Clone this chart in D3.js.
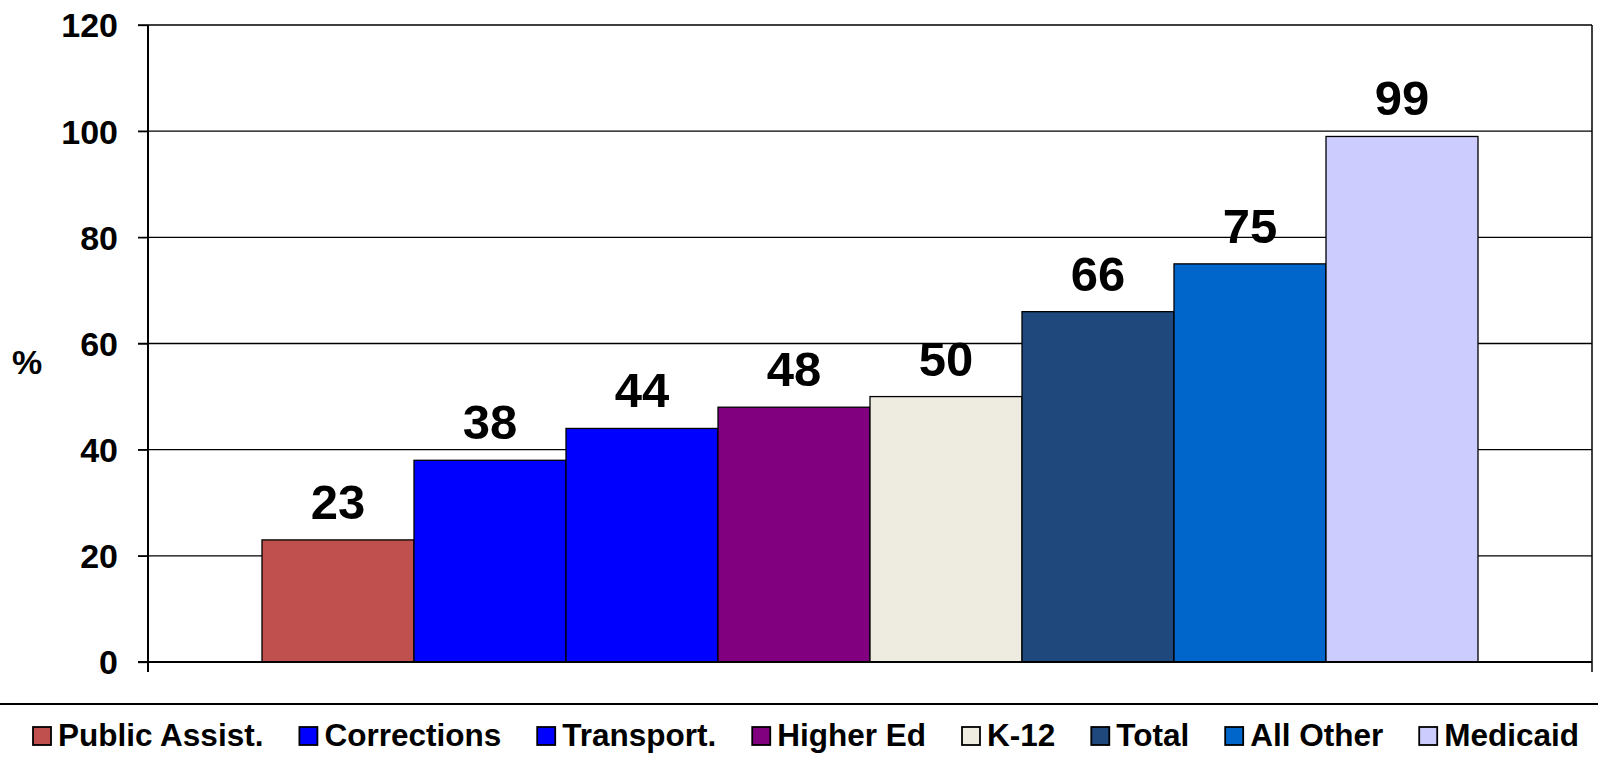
<!DOCTYPE html>
<html>
<head>
<meta charset="utf-8">
<script src="https://cdn.jsdelivr.net/npm/d3@7"></script>
<style>
  html, body { margin: 0; padding: 0; background: #fff; }
  svg { display: block; }
  text { font-family: "Liberation Sans", Arial, sans-serif; font-weight: bold; fill: #000; }
</style>
</head>
<body>
<svg id="chart" width="1598" height="760"></svg>
<script>
// ---- data ----
const seriesNames = ["Public Assist.", "Corrections", "Transport.", "Higher Ed", "K-12", "Total", "All Other", "Medicaid"];
const seriesValues = [23, 38, 44, 48, 50, 66, 75, 99];
const seriesColors = ["#C0504D", "#0000FF", "#0000FF", "#800080", "#EEECE1", "#1F497D", "#0066CC", "#CCCCFF"];
const yTicks = [0, 20, 40, 60, 80, 100, 120];
const yLabel = "%";

// ---- layout ----
const W = 1598, H = 760;
const plot = { left: 148, right: 1592, top: 25, bottom: 662 };

const svg = d3.select("#chart");

const y = d3.scaleLinear().domain([0, 120]).range([plot.bottom, plot.top]);
const x = d3.scaleBand().domain(seriesNames).range([plot.left, plot.right])
  .paddingInner(0).paddingOuter(0.75);

// gridlines
svg.append("g").selectAll("line").data(yTicks.filter(t => t > 0)).join("line")
  .attr("x1", plot.left - 10).attr("x2", plot.right)
  .attr("y1", d => y(d)).attr("y2", d => y(d))
  .attr("stroke", "#000").attr("stroke-width", 1.3);

// y axis with ticks and labels
const yAxis = d3.axisLeft(y).tickValues(yTicks).tickSize(10).tickPadding(20).tickFormat(d3.format("d"));
const gy = svg.append("g").attr("transform", `translate(${plot.left},0)`).call(yAxis);
gy.select(".domain").remove();
gy.selectAll(".tick line").attr("stroke", "#000").attr("stroke-width", 1.3);
gy.selectAll(".tick text")
  .attr("font-size", 34).attr("font-family", "'Liberation Sans', Arial, sans-serif")
  .attr("font-weight", "bold").attr("fill", "#000").attr("dy", "0.35em");

// y axis label
svg.append("text").attr("x", 27).attr("y", 374).attr("text-anchor", "middle")
  .attr("font-size", 34).text(yLabel);

// bars
const data = seriesNames.map((n, i) => ({ name: n, value: seriesValues[i], color: seriesColors[i] }));
svg.append("g").selectAll("rect").data(data).join("rect")
  .attr("x", d => x(d.name)).attr("width", x.bandwidth())
  .attr("y", d => y(d.value)).attr("height", d => y(0) - y(d.value))
  .attr("fill", d => d.color).attr("stroke", "#000").attr("stroke-width", 1.3);

// data labels
svg.append("g").selectAll("text").data(data).join("text")
  .attr("x", d => x(d.name) + x.bandwidth() / 2).attr("y", d => y(d.value) - 21)
  .attr("text-anchor", "middle").attr("font-size", 49).text(d => d.value);

// axis lines
svg.append("line").attr("x1", plot.left).attr("x2", plot.left)
  .attr("y1", plot.top).attr("y2", plot.bottom + 10).attr("stroke", "#000").attr("stroke-width", 2);
svg.append("line").attr("x1", plot.right).attr("x2", plot.right)
  .attr("y1", plot.top).attr("y2", plot.bottom + 10).attr("stroke", "#000").attr("stroke-width", 1.5);
svg.append("line").attr("x1", plot.left - 10).attr("x2", plot.right)
  .attr("y1", y(0)).attr("y2", y(0)).attr("stroke", "#000").attr("stroke-width", 2.2);

// legend separator
svg.append("line").attr("x1", 0).attr("x2", W).attr("y1", 704).attr("y2", 704)
  .attr("stroke", "#000").attr("stroke-width", 2);

// legend
const lg = svg.append("g");
const items = lg.selectAll("g").data(data).join("g");
items.append("rect").attr("width", 18).attr("height", 18).attr("y", 727)
  .attr("fill", d => d.color).attr("stroke", "#000").attr("stroke-width", 1.8);
items.append("text").attr("x", 25).attr("y", 746).attr("font-size", 31.5).text(d => d.name);
const gap = 36;
const widths = [];
items.each(function () {
  const t = d3.select(this).select("text").node().getComputedTextLength();
  widths.push(25 + t);
});
const total = d3.sum(widths) + gap * (widths.length - 1);
let cx = 806 - total / 2;
items.each(function (d, i) {
  d3.select(this).attr("transform", `translate(${cx},0)`);
  cx += widths[i] + gap;
});
</script>
</body>
</html>
